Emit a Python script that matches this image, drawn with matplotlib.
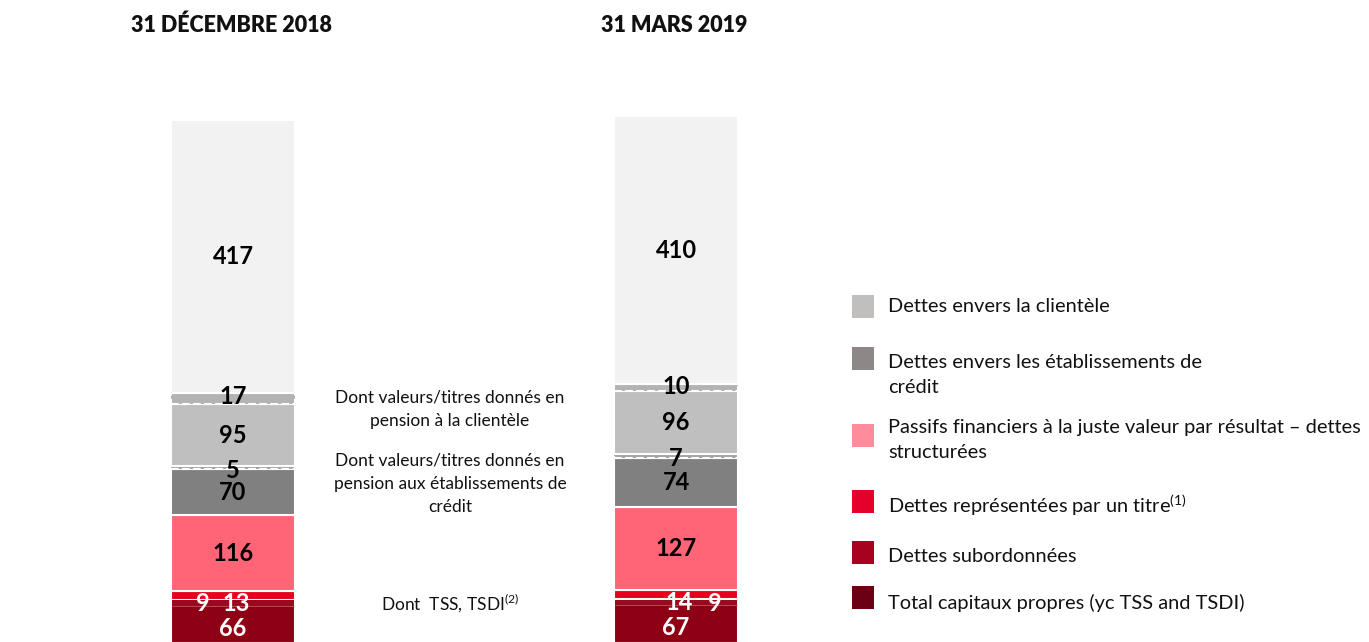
import matplotlib
matplotlib.use("Agg")
import matplotlib.pyplot as plt
from matplotlib.patches import Rectangle

plt.rcParams['font.family'] = ['Lato', 'DejaVu Sans']
plt.rcParams['mathtext.fontset'] = 'custom'
plt.rcParams['mathtext.rm'] = 'Lato'
plt.rcParams['mathtext.it'] = 'Lato'
plt.rcParams['mathtext.bf'] = 'Lato:bold'

# ---------------- data ----------------
categories = ['31 DÉCEMBRE 2018', '31 MARS 2019']
capitaux_propres = [66, 67]
dont_tss_tsdi = [9, 9]
dettes_titre = [13, 14]
passifs_juste_valeur = [116, 127]
dettes_etablissements = [70, 74]
pension_etablissements = [5, 7]
dettes_clientele = [95, 96]
pension_clientele = [17, 10]
autres_clientele = [417, 410]

legend_labels = ['Dettes envers la clientèle',
                 'Dettes envers les établissements de\ncrédit',
                 'Passifs financiers à la juste valeur par résultat – dettes\nstructurées',
                 r'Dettes représentées par un titre$^{\mathrm{(1)}}$',
                 'Dettes subordonnées',
                 'Total capitaux propres (yc TSS and TSDI)']
legend_colors = ['#c1bebe', '#8e8787', '#ff8c9c', '#e4002b', '#a8001f', '#6b0015']

annotations = ['Dont valeurs/titres donnés en\npension à la clientèle',
               'Dont valeurs/titres donnés en\npension aux établissements de\ncrédit',
               r'Dont  TSS, TSDI$^{\mathrm{(2)}}$']

# ---------------- figure ----------------
W, H = 1369, 642
fig = plt.figure(figsize=(W / 100, H / 100), dpi=100)
ax = fig.add_axes([0, 0, 1, 1])
ax.set_xlim(-233 / 443, (W - 233) / 443)
ax.set_ylim(1.5, 981.7)
ax.axis('off')

x = list(range(len(categories)))
bw = 0.28

stack = [
    (capitaux_propres, '#8e0013', 'white', 'solid'),
    (dettes_titre, '#e8001c', 'white', 'solid'),
    (passifs_juste_valeur, '#ff6577', 'white', 'solid'),
    (dettes_etablissements, '#808080', 'white', 'solid'),
    (pension_etablissements, '#a3a3a3', 'white', 'dashed'),
    (dettes_clientele, '#bfbfbf', 'white', 'solid'),
    (pension_clientele, '#b3b3b3', 'white', 'dashed'),
    (autres_clientele, '#f2f2f2', 'white', 'solid'),
]

bottoms = [0] * len(x)
layers = []
for vals, fc, ec, ls in stack:
    ax.bar(x, vals, bottom=bottoms, width=bw, color=fc, edgecolor=ec,
           linewidth=1.5, linestyle=ls, zorder=2)
    layers.append((vals, list(bottoms)))
    bottoms = [b + v for b, v in zip(bottoms, vals)]

# TSS/TSDI sub-band at top of equity
tss_bottom = [c - t for c, t in zip(capitaux_propres, dont_tss_tsdi)]
ax.bar(x, [t - 0.8 for t in dont_tss_tsdi], bottom=tss_bottom, width=bw - 0.004,
       color='#9a0a1e', edgecolor='none', zorder=3)
for i in x:
    ax.hlines(tss_bottom[i], x[i] - bw / 2 + 0.002, x[i] + bw / 2 - 0.002,
              color='#b44a58', linewidth=0.7, zorder=3)

lab_kw = dict(ha='center', va='center', fontsize=17, fontweight='bold', zorder=5)

def label(i, layer_idx, color, dy_pts=0, dx=0.0):
    vals, bots = layers[layer_idx]
    yc = bots[i] + vals[i] / 2
    ax.annotate(str(vals[i]), (x[i] + dx, yc), xytext=(0, -dy_pts),
                textcoords='offset points', color=color, **lab_kw)

for i in x:
    label(i, 7, 'black')
    label(i, 6, 'black', dy_pts=-1)
    label(i, 5, 'black')
    label(i, 4, 'black', dy_pts=2)
    label(i, 3, 'black')
    label(i, 2, 'black')
    label(i, 1, 'white', dy_pts=6, dx=0.007)
    # equity label
    ax.annotate(str(capitaux_propres[i]), (x[i], capitaux_propres[i] / 2),
                xytext=(0, -5), textcoords='offset points', color='white', **lab_kw)

# TSS labels (left on first bar, right on second)
tss_dx = [-0.068, 0.088]
for i in x:
    ax.annotate(str(dont_tss_tsdi[i]), (x[i] + tss_dx[i], capitaux_propres[i]),
                xytext=(0, -3), textcoords='offset points', color='white', **lab_kw)

# titles
for i, cat in enumerate(categories):
    ax.text(x[i] - 0.003, 943.5, cat, ha='center', va='center', fontsize=15.5,
            fontweight='heavy', color='#111111')

def fx(px):
    return px / W

def fy(py):
    return 1 - py / H

# annotations in the middle
ann_y = [409, 484, 603]
for txt, py in zip(annotations, ann_y):
    fig.text(fx(450), fy(py), txt, ha='center', va='center', fontsize=12.5,
             color='#111111', linespacing=1.55)

# legend
sq_y = [306, 358, 435, 501, 552, 597]
txt_y = [307, 375, 440, 505, 557, 603]
for lab, col, sy, ty in zip(legend_labels, legend_colors, sq_y, txt_y):
    fig.add_artist(Rectangle((fx(852), fy(sy + 11.5)), 22 / W, 23 / H,
                             transform=fig.transFigure, facecolor=col,
                             edgecolor='none'))
    fig.text(fx(888), fy(ty), lab, ha='left', va='center', fontsize=14.4,
             color='#111111', linespacing=1.55)

fig.savefig('out.png', dpi=100)
